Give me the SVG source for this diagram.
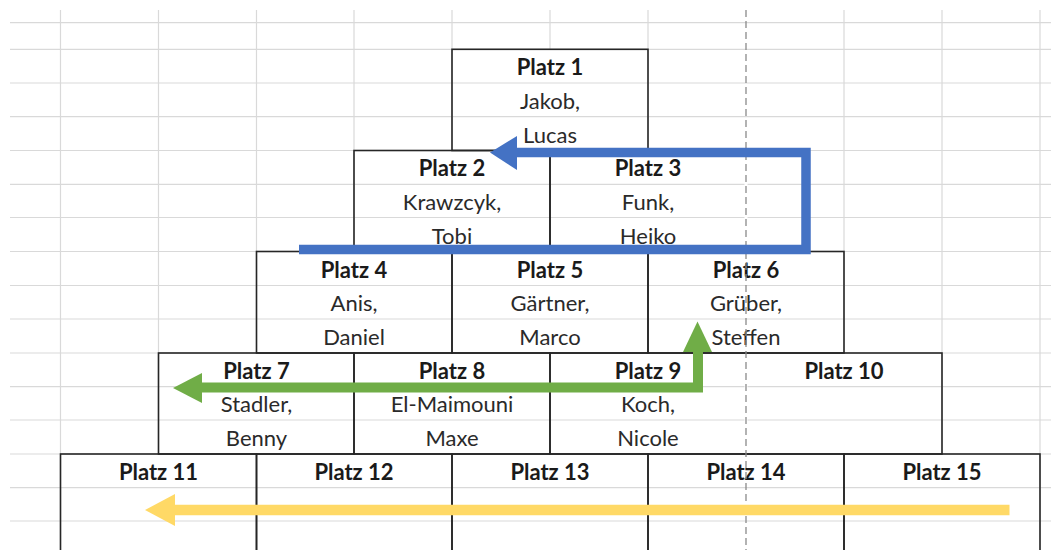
<svg xmlns="http://www.w3.org/2000/svg" width="1051" height="550" viewBox="0 0 1051 550">
<style>
.g{stroke:#d9d9d9;stroke-width:1.2;fill:none}
.cell{fill:none;stroke:#262626;stroke-width:1.6}
.h{font-family:Lato,"Liberation Sans",sans-serif;font-weight:bold;font-size:22px;fill:#1a1a1a;text-anchor:middle}
.t{font-family:Lato,"Liberation Sans",sans-serif;font-size:22px;fill:#2a2a2a;text-anchor:middle}
.pb{stroke:#8a8a8a;stroke-width:1.3;stroke-dasharray:7,4;fill:none}
</style>
<rect width="1051" height="550" fill="#ffffff"/>
<g id="grid">
<path class="g" d="M10 22.7H1051M10 49.3H1051M10 83H1051M10 116.7H1051M10 150.5H1051M10 184.3H1051M10 217.5H1051M10 251.5H1051M10 285.5H1051M10 319H1051M10 353H1051M10 386.7H1051M10 420H1051M10 454H1051M10 487.7H1051M10 521H1051"/>
<path class="g" d="M60.5 10V550M158.5 10V454M256.5 10V353M354 10V251.5M452 10V150.5M550 10V49.3M648 10V150.5M844 10V353M942 10V454M1040 10V550"/>
</g>
<g id="platz1"><rect class="cell" x="452" y="49.3" width="196" height="101.2"/><text class="h" x="550" y="75">Platz 1</text><text class="t" x="550" y="108.7">Jakob,</text><text class="t" x="550" y="142.5">Lucas</text></g>
<g id="platz2"><rect class="cell" x="354" y="150.5" width="196" height="101"/><text class="h" x="452" y="176.3">Platz 2</text><text class="t" x="452" y="209.5">Krawzcyk,</text><text class="t" x="452" y="243.5">Tobi</text></g>
<g id="platz3"><rect class="cell" x="550" y="150.5" width="196" height="101"/><text class="h" x="648" y="176.3">Platz 3</text><text class="t" x="648" y="209.5">Funk,</text><text class="t" x="648" y="243.5">Heiko</text></g>
<g id="platz4"><rect class="cell" x="256.5" y="251.5" width="195.5" height="101.5"/><text class="h" x="354" y="277.5">Platz 4</text><text class="t" x="354" y="311">Anis,</text><text class="t" x="354" y="345">Daniel</text></g>
<g id="platz5"><rect class="cell" x="452" y="251.5" width="196" height="101.5"/><text class="h" x="550" y="277.5">Platz 5</text><text class="t" x="550" y="311">Gärtner,</text><text class="t" x="550" y="345">Marco</text></g>
<g id="platz6"><rect class="cell" x="648" y="251.5" width="196" height="101.5"/><text class="h" x="746" y="277.5">Platz 6</text><text class="t" x="746" y="311">Grüber,</text><text class="t" x="746" y="345">Steffen</text></g>
<g id="platz7"><rect class="cell" x="158.5" y="353" width="195.5" height="101"/><text class="h" x="256.5" y="378.7">Platz 7</text><text class="t" x="256.5" y="412">Stadler,</text><text class="t" x="256.5" y="446">Benny</text></g>
<g id="platz8"><rect class="cell" x="354" y="353" width="196" height="101"/><text class="h" x="452" y="378.7">Platz 8</text><text class="t" x="452" y="412">El-Maimouni</text><text class="t" x="452" y="446">Maxe</text></g>
<g id="platz9"><rect class="cell" x="550" y="353" width="196" height="101"/><text class="h" x="648" y="378.7">Platz 9</text><text class="t" x="648" y="412">Koch,</text><text class="t" x="648" y="446">Nicole</text></g>
<g id="platz10"><rect class="cell" x="746" y="353" width="196" height="101"/><text class="h" x="844" y="378.7">Platz 10</text></g>
<g id="platz11"><rect class="cell" x="60.5" y="454" width="196" height="110"/><text class="h" x="158.5" y="479.7">Platz 11</text></g>
<g id="platz12"><rect class="cell" x="256.5" y="454" width="195.5" height="110"/><text class="h" x="354" y="479.7">Platz 12</text></g>
<g id="platz13"><rect class="cell" x="452" y="454" width="196" height="110"/><text class="h" x="550" y="479.7">Platz 13</text></g>
<g id="platz14"><rect class="cell" x="648" y="454" width="196" height="110"/><text class="h" x="746" y="479.7">Platz 14</text></g>
<g id="platz15"><rect class="cell" x="844" y="454" width="196" height="110"/><text class="h" x="942" y="479.7">Platz 15</text></g>
<g id="pagebreak">
<path d="M746 151.5V250.5M746 354V453" stroke="#ffffff" stroke-width="3"/>
<path class="pb" d="M746 10V550"/>
</g>
<g id="connectors">
<path d="M299 249.5H806V152.5H514" fill="none" stroke="#4472C4" stroke-width="9.5"/>
<polygon points="490,152.5 517,136 517,170" fill="#4472C4"/>
<path d="M199 387.5H698V349" fill="none" stroke="#70AD47" stroke-width="10"/>
<polygon points="173,388 202,373 202,403" fill="#70AD47"/>
<polygon points="697.5,321.5 683,352 712,352" fill="#70AD47"/>
<path d="M172 510H1009.5" fill="none" stroke="#FFD966" stroke-width="10.5"/>
<polygon points="145,510 175,494 175,526" fill="#FFD966"/>
</g>
</svg>
